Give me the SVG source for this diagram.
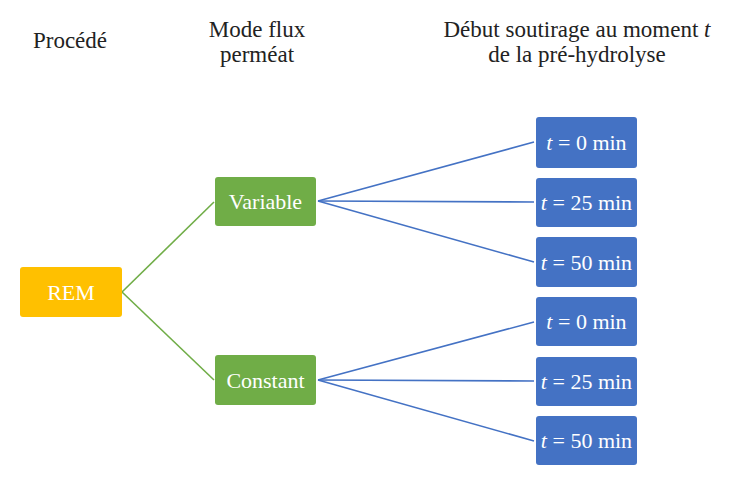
<svg xmlns="http://www.w3.org/2000/svg" width="739" height="479" viewBox="0 0 739 479">
<style>
.h{font-size:23px;fill:#222;text-anchor:middle;}
.n{font-size:22px;fill:#fff;text-anchor:middle;}
.g{fill:#70AD47;}
.b{fill:#4472C4;}
.o{fill:#FFC000;}
.lg{stroke:#70AD47;stroke-width:1.6;fill:none;}
.lb{stroke:#4472C4;stroke-width:1.6;fill:none;}
</style>
<rect width="739" height="479" fill="#fff"/>
<g font-family="Liberation Serif, DejaVu Serif, serif">
<g id="headers">
<text class="h" x="70" y="48">Procédé</text>
<text class="h" x="257" y="37">Mode flux</text>
<text class="h" x="257" y="62">perméat</text>
<text class="h" x="577" y="37">Début soutirage au moment <tspan font-style="italic">t</tspan></text>
<text class="h" x="577" y="62">de la pré-hydrolyse</text>
</g>
<g id="connectors">
<line class="lg" x1="122" y1="292" x2="214" y2="202"/>
<line class="lg" x1="122" y1="292" x2="214" y2="380"/>
<line class="lb" x1="318" y1="201" x2="534" y2="142"/>
<line class="lb" x1="318" y1="201" x2="534" y2="202"/>
<line class="lb" x1="318" y1="201" x2="534" y2="262"/>
<line class="lb" x1="318" y1="380" x2="534" y2="322"/>
<line class="lb" x1="318" y1="380" x2="534" y2="381"/>
<line class="lb" x1="318" y1="380" x2="534" y2="441"/>
</g>
<g id="rem"><rect class="o" x="20" y="267" width="102" height="50" rx="3"/><text class="n" x="71" y="300">REM</text></g>
<g id="variable"><rect class="g" x="215" y="177" width="101" height="49" rx="3"/><text class="n" x="265.5" y="209">Variable</text></g>
<g id="constant"><rect class="g" x="215" y="355" width="101" height="50" rx="3"/><text class="n" x="265.5" y="388">Constant</text></g>
<g id="v0"><rect class="b" x="536" y="117" width="101" height="51" rx="3"/><text class="n" x="586.5" y="150"><tspan font-style="italic">t</tspan> = 0 min</text></g>
<g id="v25"><rect class="b" x="536" y="178" width="101" height="49" rx="3"/><text class="n" x="586.5" y="210"><tspan font-style="italic">t</tspan> = 25 min</text></g>
<g id="v50"><rect class="b" x="536" y="237" width="101" height="50" rx="3"/><text class="n" x="586.5" y="270"><tspan font-style="italic">t</tspan> = 50 min</text></g>
<g id="c0"><rect class="b" x="536" y="297" width="101" height="49" rx="3"/><text class="n" x="586.5" y="329"><tspan font-style="italic">t</tspan> = 0 min</text></g>
<g id="c25"><rect class="b" x="536" y="357" width="101" height="49" rx="3"/><text class="n" x="586.5" y="389"><tspan font-style="italic">t</tspan> = 25 min</text></g>
<g id="c50"><rect class="b" x="536" y="416" width="101" height="49" rx="3"/><text class="n" x="586.5" y="448"><tspan font-style="italic">t</tspan> = 50 min</text></g>
</g>
</svg>
